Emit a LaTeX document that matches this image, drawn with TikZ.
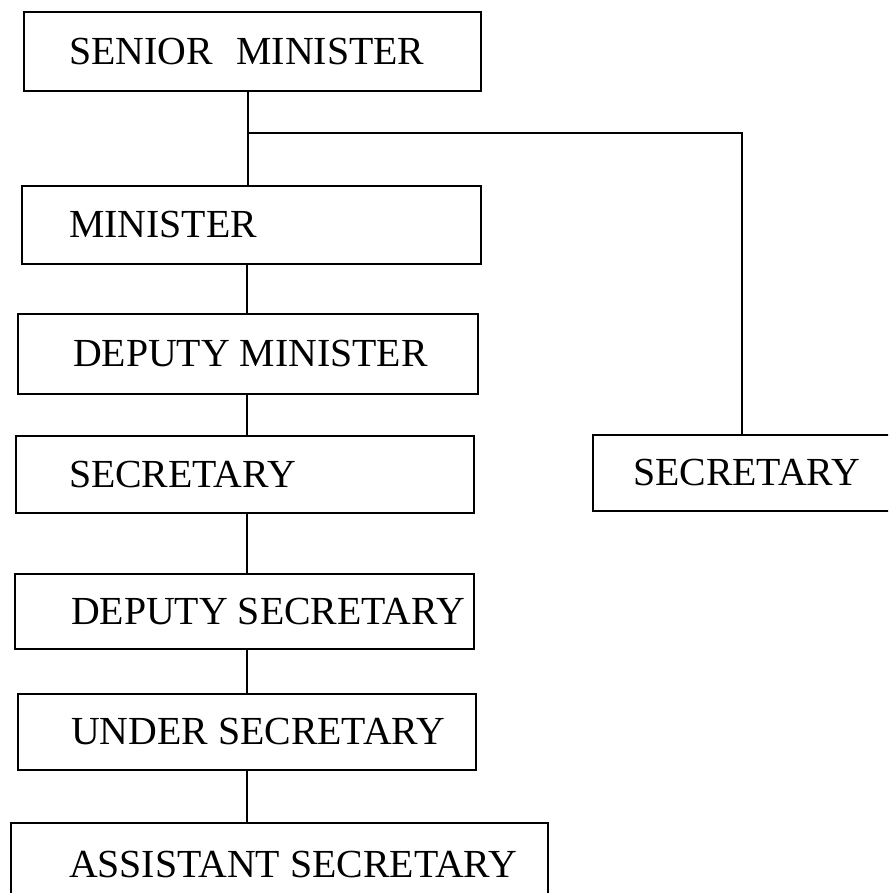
\documentclass[tikz,border=0pt]{standalone}
\usepackage{fontspec}
\setmainfont{Liberation Serif}
\begin{document}
\begin{tikzpicture}[x=1pt,y=1pt,
  orgbox/.style={draw, line width=2pt, inner sep=0pt, anchor=north west},
  link/.style={line width=2pt},
  font=\fontsize{39.8}{46}\selectfont]
\useasboundingbox (0,0) rectangle (888,-893);
\clip (0,0) rectangle (888,-893);

\node[orgbox, minimum height=79pt] (sm) at (23,-11)
  {\makebox[457pt][l]{\hspace{45pt}\raisebox{-3pt}{SENIOR\hspace{0.6em}MINISTER}}};
\node[orgbox, minimum height=78pt] (min) at (21,-185)
  {\makebox[459pt][l]{\hspace{47pt}MINISTER}};
\node[orgbox, minimum height=80pt] (dm) at (17,-313)
  {\makebox[460pt][l]{\hspace{55pt}DEPUTY MINISTER}};
\node[orgbox, minimum height=77pt] (sec) at (15,-435)
  {\makebox[458pt][l]{\hspace{53pt}SECRETARY}};
\node[orgbox, minimum height=75pt] (ds) at (14,-573)
  {\makebox[459pt][l]{\hspace{56pt}DEPUTY SECRETARY}};
\node[orgbox, minimum height=76pt] (us) at (17,-693)
  {\makebox[458pt][l]{\hspace{53pt}UNDER SECRETARY}};
\node[orgbox, minimum height=100pt] (as) at (10,-822)
  {\makebox[537pt][l]{\hspace{58pt}\raisebox{17pt}{ASSISTANT SECRETARY}}};
\node[orgbox, minimum height=76pt] (sec2) at (592,-434)
  {\makebox[320pt][l]{\hspace{40pt}SECRETARY}};

\coordinate (j) at (248,-133);
\coordinate (k) at (742,-133);
\coordinate (spine) at (247,0);

\draw[link] (sm.south -| j) -- (min.north -| j);
\draw[link] (j) -- (k) -- (sec2.north -| k);
\draw[link] (min.south -| spine) -- (dm.north -| spine);
\draw[link] (dm.south -| spine) -- (sec.north -| spine);
\draw[link] (sec.south -| spine) -- (ds.north -| spine);
\draw[link] (ds.south -| spine) -- (us.north -| spine);
\draw[link] (us.south -| spine) -- (as.north -| spine);
\end{tikzpicture}
\end{document}
